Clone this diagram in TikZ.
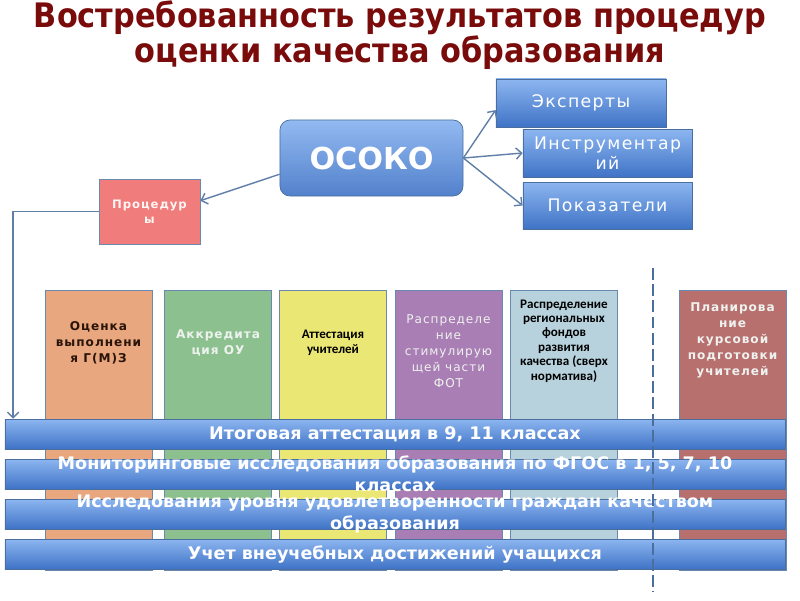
\documentclass[tikz,border=0pt]{standalone}
\usepackage{fontspec}
\setmainfont{DejaVu Sans}
\newfontfamily\condsf{DejaVu Sans Condensed}
\newfontfamily\barsf{DejaVu Sans Condensed}[FakeStretch=1.13]
\newfontfamily\widesf{DejaVu Sans}[LetterSpace=8]
\newfontfamily\calsf{Carlito}
\usetikzlibrary{arrows.meta,positioning,calc}
\definecolor{titleRed}{HTML}{7A0B0B}
\definecolor{blueTop}{HTML}{8DB6F0}
\definecolor{blueBot}{HTML}{3F73C6}
\definecolor{blueEdge}{HTML}{4A6E9E}
\definecolor{linkCol}{HTML}{5F7FA8}
\definecolor{procRed}{HTML}{F07C7C}
\definecolor{colEdge}{HTML}{6A89B0}
\definecolor{colOrange}{HTML}{E8A77F}
\definecolor{colGreen}{HTML}{8DC08F}
\definecolor{colYellow}{HTML}{EBE775}
\definecolor{colPurple}{HTML}{A97EB5}
\definecolor{colLight}{HTML}{B7D2DC}
\definecolor{colBrown}{HTML}{B8706F}
\definecolor{txtDark}{HTML}{2A1408}
\definecolor{txtPale}{HTML}{EEF2EE}
\newcommand\colbf{\widesf\fontsize{8.6}{11.4}\selectfont\bfseries}
\newcommand\colrm{\widesf\fontsize{8.6}{11.4}\selectfont}
\newcommand\colcal{\calsf\fontsize{9.3}{10.3}\selectfont\bfseries}

\begin{document}
\begin{tikzpicture}[x=0.025cm,y=-0.025cm,
  bluebox/.style={draw=blueEdge,line width=0.5pt,top color=blueTop,bottom color=blueBot,
    text=white,inner sep=0pt,minimum height=1.2cm},
  colbox/.style={draw=colEdge,line width=0.5pt,minimum width=2.675cm,minimum height=7cm,inner sep=0pt},
  barbox/.style={draw=blueEdge,line width=0.4pt,top color=blueTop,bottom color=blueBot,
    minimum width=19.5cm,minimum height=0.75cm,inner sep=0pt},
  bartext/.style={text=white,align=center,font=\barsf\bfseries\fontsize{12.3}{15.6}\selectfont},
  link/.style={draw=linkCol,line width=1pt,-{Straight Barb[length=4pt,width=8pt]}}]
  \useasboundingbox (0,0) rectangle (800,600);

  % title
  \node[text=titleRed,align=center,font=\condsf\bfseries\fontsize{24}{21.5}\selectfont] (title) at (400,35)
    {Востребованность результатов процедур\\оценки качества образования};

  % top block
  \node[bluebox,minimum width=4.575cm,minimum height=1.9cm,rounded corners=0.25cm,
    top color=blueTop!95!white,bottom color=blueBot!90!white,font=\bfseries\fontsize{21.5}{21.5}\selectfont]
    (osoko) at (371.5,158) {ОСОКО};
  \node[bluebox,minimum width=4.25cm,font=\widesf\fontsize{12.3}{14}\selectfont] (exp) at (581,103) {Эксперты};
  \node[bluebox,minimum width=4.225cm,align=center,font=\widesf\fontsize{12.3}{14}\selectfont]
    (instr) at (607.5,153) {Инструментар\\ий};
  \node[bluebox,minimum width=4.225cm,minimum height=1.175cm,font=\widesf\fontsize{12.3}{14}\selectfont]
    (pok) at (607.5,205.5) {Показатели};
  \node[draw=colEdge,line width=0.5pt,fill=procRed,minimum width=2.525cm,minimum height=1.625cm,
    text=white!92!procRed,align=center,font=\widesf\bfseries\fontsize{8.3}{11}\selectfont]
    (proc) at (149.5,211.5) {Процедур\\ы};

  \draw[link] (osoko.190) -- (proc.12);
  \draw[link] (osoko.east) -- ([yshift=-5pt]exp.west);
  \draw[link] (osoko.east) -- (instr.west);
  \draw[link] (osoko.east) -- (pok.west);

  % columns
  \foreach \i/\x/\c/\t/\f/\ty/\lab in {
    1/98.5/colOrange/txtDark/\colbf/343/{Оценка\\выполнени\\я Г(М)З},
    2/218/colGreen/txtPale/\colbf/343/{Аккредита\\ция ОУ},
    3/333/colYellow/black/\colcal/343/{Аттестация\\учителей},
    4/448.5/colPurple/txtPale/\colrm/351/{Распределе\\ние\\стимулирую\\щей части\\ФОТ},
    5/564/colLight/black/\colcal/341/{Распределение\\региональных\\фондов\\развития\\качества (сверх\\норматива)},
    6/732.5/colBrown/txtPale/\colbf/340/{Планирова\\ние\\курсовой\\подготовки\\учителей}}{
    \node[colbox,fill=\c] (col\i) at (\x,430) {};
    \node[text=\t,align=center,font=\f] (lab\i) at (\x,\ty) {\lab};
  }

  % bars
  \foreach \i/\y in {1/434,2/474,3/514,4/554}{
    \node[barbox] (bar\i) at (395,\y) {};
  }
  \node[bartext] (bt1) at (bar1) {Итоговая аттестация в 9, 11 классах};
  \node[bartext] (bt2) at (bar2) {Мониторинговые исследования образования по ФГОС в 1, 5, 7, 10\\классах};
  \node[bartext] (bt3) at (bar3) {Исследования уровня удовлетворенности граждан качеством\\образования};
  \node[bartext] (bt4) at (bar4) {Учет внеучебных достижений учащихся};

  \draw[link] (proc.west) -| ([xshift=6pt]bar1.north west);

  % dashed divider
  \coordinate (divtop) at (653,268);
  \coordinate (divbot) at (653,592);
  \draw[draw=blueEdge,line width=1.1pt,dash pattern=on 8.5pt off 3pt] (divtop) -- (divbot);
\end{tikzpicture}
\end{document}
